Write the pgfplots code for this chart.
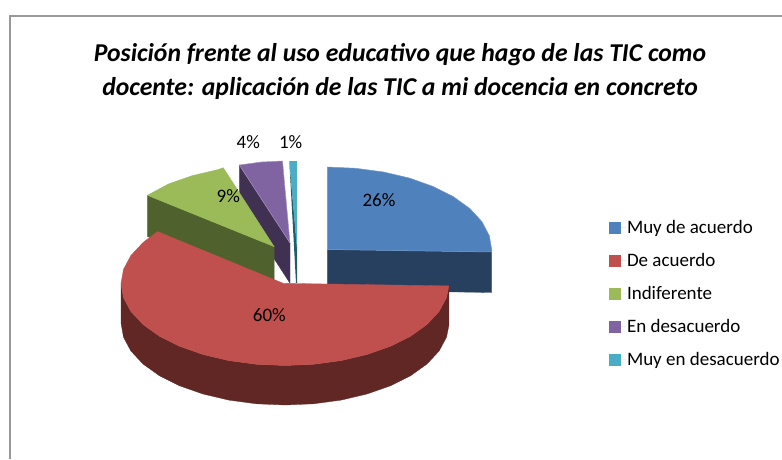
\documentclass[border=0pt]{standalone}
\usepackage{pgfplots}
\pgfplotsset{compat=1.18}
\usepackage{fontspec}
\setmainfont{Carlito}
\definecolor{cBlue}{HTML}{4F81BD}
\definecolor{cRed}{HTML}{C0504D}
\definecolor{cGreen}{HTML}{9BBB59}
\definecolor{cPurple}{HTML}{8064A2}
\definecolor{cTeal}{HTML}{4BACC6}
\definecolor{dBlue}{HTML}{28405F}
\definecolor{dRed}{HTML}{612725}
\definecolor{dGreen}{HTML}{4F612D}
\definecolor{dPurple}{HTML}{403152}
\definecolor{dTeal}{HTML}{255A67}
\begin{document}
\begin{tikzpicture}
\useasboundingbox (0,0) rectangle (782pt,459pt);
\begin{axis}[
  anchor=south west,at={(0,0)},
  width=782pt,height=459pt,scale only axis,
  xmin=0,xmax=782,ymin=0,ymax=459,y dir=reverse,
  hide axis,clip=true,
  title={\textbf{\textit{Posición frente al uso educativo que hago de las TIC como}}\\\textbf{\textit{docente: aplicación de las TIC a mi docencia en concreto}}},
  title style={at={(axis cs:400,77.5)},anchor=center,align=center,font=\fontsize{25.7}{34.5}\selectfont},
  legend style={draw=none,fill=none,at={(axis cs:609,219.5)},anchor=north west,
    font=\fontsize{19}{20}\selectfont,row sep=16.3pt,inner sep=0pt,outer sep=0pt,
    nodes={inner sep=1pt}},
  legend cell align=left,
  legend image code/.code={\path[#1,draw=none] (0pt,-6pt) rectangle (12pt,6pt);\path[draw=none] (0pt,0pt) -- (17pt,0pt);},
]
% frame
\addplot[forget plot,draw=black!40,line width=2pt] coordinates {(782,16) (10,16) (10,459)};
% 26% side
\addplot[forget plot,fill=dBlue,draw=dBlue,line width=0.3pt] coordinates {(327.3,249.5) (491.5,252) (491.5,292.5) (327.3,290)} -- cycle;
% 26% top
\addplot[forget plot,fill=cBlue,draw=cBlue!80!white,line width=0.5pt] coordinates {(327.3,249.5) (327.3,167) (355.9,168.3) (383.6,172) (409.6,178.1) (433,186.4) (453.3,196.6) (469.8,208.5) (481.9,221.6) (489.3,235.6) (491.8,250) (491.7,252)} -- cycle;
% 1% side and top
\addplot[forget plot,fill=dTeal,draw=none] coordinates {(289.3,161) (297,247) (297,283) (296,283)} -- cycle;
\addplot[forget plot,fill=cTeal,draw=none] coordinates {(289.3,161) (297,161) (297,250)} -- cycle;
% 4% side and top
\addplot[forget plot,fill=dPurple,draw=dPurple,line width=0.3pt] coordinates {(239.3,165) (290,243) (290,283.3) (239.3,205)} -- cycle;
\addplot[forget plot,fill=cPurple,draw=cPurple!70!white,line width=0.5pt] coordinates {(239.3,165) (261.5,162) (282.5,161) (290,243)} -- cycle;
% 9% side and top
\addplot[forget plot,fill=dGreen,draw=dGreen,line width=0.3pt] coordinates {(147.3,195.3) (274.2,246.7) (274.2,287) (147.3,236.5)} -- cycle;
\addplot[forget plot,fill=cGreen,draw=cGreen,line width=0.3pt] coordinates {(274.2,246.7) (147.3,195.3) (168.6,183.9) (192,175.7) (217.9,169.6) (223.3,167.7)} -- cycle;
% 60% side
\addplot[forget plot,fill=dRed,draw=dRed,line width=0.3pt] coordinates {(448.9,285.9) (446.5,297.7) (439.1,311.5) (427,324.5) (410.6,336.2) (390.4,346.3) (367,354.5) (341.1,360.6) (313.5,364.3) (285,365.5) (256.5,364.3) (228.9,360.6) (203,354.5) (179.6,346.3) (159.4,336.2) (143,324.5) (130.9,311.5) (123.5,297.7) (121,283.5)
 (121,323) (123.5,337.2) (130.9,351) (143,364) (159.4,375.7) (179.6,385.8) (203,394) (228.9,400.1) (256.5,403.8) (285,405) (313.5,403.8) (341.1,400.1) (367,394) (390.4,385.8) (410.6,375.7) (427,364) (439.1,351) (446.5,337.2) (448.9,325.4)} -- cycle;
% 60% top
\addplot[forget plot,fill=cRed,draw=cRed,line width=0.3pt] coordinates {(283.3,283.3) (448.9,285.9) (446.5,297.7) (439.1,311.5) (427,324.5) (410.6,336.2) (390.4,346.3) (367,354.5) (341.1,360.6) (313.5,364.3) (285,365.5) (256.5,364.3) (228.9,360.6) (203,354.5) (179.6,346.3) (159.4,336.2) (143,324.5) (130.9,311.5) (123.5,297.7) (121,283.5) (123.5,269.3) (130.9,255.5) (143,242.5) (157.5,231.5)} -- cycle;
% data labels
\addplot[forget plot,only marks,mark=none,nodes near coords,point meta=explicit symbolic,
  nodes near coords style={anchor=center,font=\fontsize{19}{20}\selectfont,text=black,inner sep=0pt}]
  table[meta=lab] {
  x y lab
  379 200 26\%
  269.3 315 60\%
  228.3 196 9\%
  248.3 141.7 4\%
  290.7 141.7 1\%
};
% legend
\addlegendimage{fill=cBlue}\addlegendentry{Muy de acuerdo}
\addlegendimage{fill=cRed}\addlegendentry{De acuerdo}
\addlegendimage{fill=cGreen}\addlegendentry{Indiferente}
\addlegendimage{fill=cPurple}\addlegendentry{En desacuerdo}
\addlegendimage{fill=cTeal}\addlegendentry{Muy en desacuerdo}
\end{axis}
\end{tikzpicture}
\end{document}
